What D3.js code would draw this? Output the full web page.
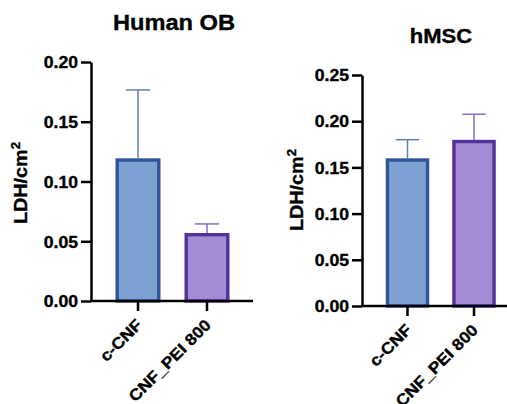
<!DOCTYPE html>
<html>
<head>
<meta charset="utf-8">
<script src="https://cdn.jsdelivr.net/npm/d3@7"></script>
<style>
  html, body { margin: 0; padding: 0; background: #fff; }
  svg { display: block; }
  text { font-family: "Liberation Sans", Arial, sans-serif; font-weight: bold; fill: #000; stroke: #000; stroke-width: 0.35px; }
</style>
</head>
<body>
<svg id="chart" width="507" height="404"></svg>
<script>
// ---- data ----
const categories = ["c-CNF", "CNF_PEI 800"];
const obMeans = [0.118, 0.0555];
const obErrors = [0.0586, 0.009];
const mscMeans = [0.158, 0.178];
const mscErrors = [0.022, 0.0295];
const obTicks = [0, 0.05, 0.10, 0.15, 0.20];
const mscTicks = [0, 0.05, 0.10, 0.15, 0.20, 0.25];
const panelTitles = ["Human OB", "hMSC"];
const yTitle = "LDH/cm";

const fills = ["#7ea1d4", "#a58bd3"];
const strokes = ["#2f5597", "#52329a"];
const errColors = ["#5f80aa", "#8a6cc2"];
const SX = 1.1; // horizontal stretch of the lettering

const svg = d3.select("#chart");

function panel(o) {
  const g = svg.append("g");
  const y = d3.scaleLinear().domain([0, o.yMax]).range([o.y0, o.y1]);
  const x = d3.scaleBand().domain(categories).range([o.x0, o.x1])
    .paddingInner(o.pi).paddingOuter(o.po);
  const sw = 3.4;

  // bars
  g.selectAll("rect.bar").data(o.means).join("rect")
    .attr("class", "bar")
    .attr("x", (d, i) => x(categories[i]) + sw / 2)
    .attr("width", x.bandwidth() - sw)
    .attr("y", d => y(d))
    .attr("height", d => y(0) - y(d))
    .attr("fill", (d, i) => fills[i])
    .attr("stroke", (d, i) => strokes[i])
    .attr("stroke-width", sw);

  // error bars (upper only)
  o.means.forEach((m, i) => {
    const cx = x(categories[i]) + x.bandwidth() / 2;
    const top = y(m + o.errs[i]);
    const capW = x.bandwidth() * 0.27;
    g.append("line").attr("x1", cx).attr("x2", cx)
      .attr("y1", y(m) - sw / 2).attr("y2", top)
      .attr("stroke", errColors[i]).attr("stroke-width", 1.5);
    g.append("line").attr("x1", cx - capW).attr("x2", cx + capW)
      .attr("y1", top).attr("y2", top)
      .attr("stroke", errColors[i]).attr("stroke-width", 1.5);
  });

  // y axis
  const ya = g.append("g").attr("transform", `translate(${o.x0},0)`)
    .call(d3.axisLeft(y).tickValues(o.ticks).tickFormat(d3.format(".2f"))
      .tickSize(10).tickSizeOuter(0).tickPadding(3));
  ya.select(".domain").attr("stroke", "#000").attr("stroke-width", 2.5);
  ya.selectAll(".tick line").attr("stroke", "#000").attr("stroke-width", 2.5);
  ya.selectAll(".tick text")
    .attr("x", 0).attr("dy", "0.36em")
    .attr("transform", `translate(-13,0) scale(${SX},1)`)
    .attr("fill", "#000")
    .style("font-size", "16px")
    .style("font-family", "'Liberation Sans', Arial, sans-serif")
    .style("font-weight", "bold");

  // x axis
  const xa = g.append("g").attr("transform", `translate(0,${o.y0})`)
    .call(d3.axisBottom(x).tickSize(10).tickSizeOuter(0).tickFormat(""));
  xa.select(".domain").attr("stroke", "#000").attr("stroke-width", 2.5)
    .attr("d", `M${o.x0 - 1},0H${o.xEnd}`);
  xa.selectAll(".tick line").attr("stroke", "#000").attr("stroke-width", 2.5);

  // rotated x labels
  categories.forEach((c, i) => {
    const tx = x(c) + x.bandwidth() / 2 + 5;
    const ty = o.y0 + 25;
    g.append("text").attr("transform", `translate(${tx},${ty}) rotate(-45) scale(${SX},1)`)
      .attr("text-anchor", "end").style("font-size", "16px").text(c);
  });

  // title
  g.append("text").attr("transform", `translate(${o.titleX},${o.titleY}) scale(${SX},1)`)
    .attr("text-anchor", "middle").style("font-size", o.titleSize + "px").text(o.title);

  // y axis title
  const yt = g.append("text")
    .attr("transform", `translate(${o.yLabX},${o.yLabY}) rotate(-90) scale(${SX},1)`)
    .attr("text-anchor", "middle").style("font-size", "18px");
  yt.append("tspan").text(yTitle);
  yt.append("tspan").attr("dy", -7).style("font-size", "12px").text("2");
}

panel({
  means: obMeans, errs: obErrors, ticks: obTicks, yMax: 0.20,
  x0: 91, x1: 254, xEnd: 253, pi: 0.348, po: 0.355, y0: 301, y1: 62,
  title: panelTitles[0], titleX: 174, titleY: 30, titleSize: 21.5,
  yLabX: 27, yLabY: 183
});
panel({
  means: mscMeans, errs: mscErrors, ticks: mscTicks, yMax: 0.25,
  x0: 362, x1: 519.5, xEnd: 507, pi: 0.346, po: 0.357, y0: 306, y1: 75,
  title: panelTitles[1], titleX: 441, titleY: 43, titleSize: 20,
  yLabX: 303, yLabY: 190
});
</script>
</body>
</html>
